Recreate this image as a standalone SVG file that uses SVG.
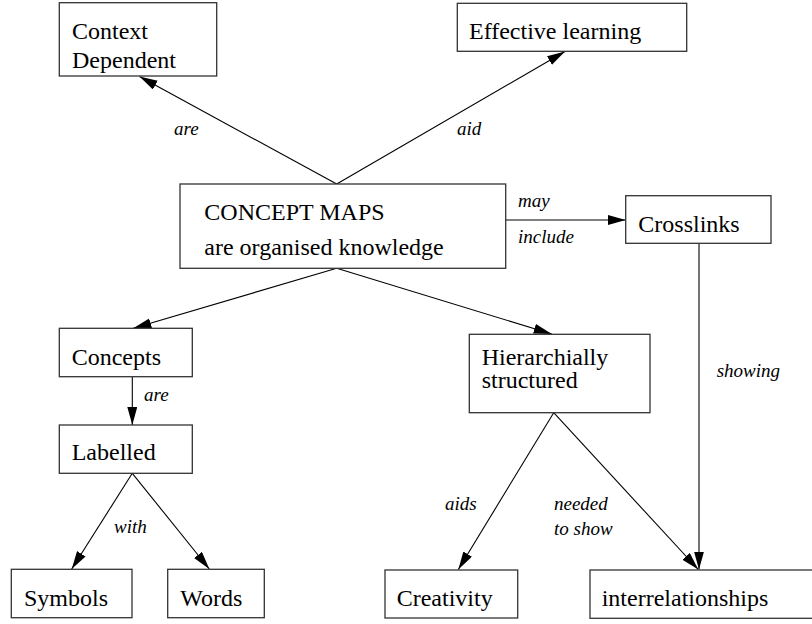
<svg xmlns="http://www.w3.org/2000/svg" width="812" height="624" viewBox="0 0 812 624">
<defs>
<marker id="ah" markerUnits="userSpaceOnUse" markerWidth="20" markerHeight="12" refX="18" refY="5" orient="auto">
<path d="M0,0 L18,5 L0,10 z" fill="#000"/>
</marker>
<style>
rect{fill:#fff;stroke:#333;stroke-width:1.3}
.t{font-size:24px;fill:#000}
.l{font-size:19px;font-style:italic;fill:#000}
#edges line{stroke:#000;stroke-width:1.1;marker-end:url(#ah)}
</style>
</defs>
<rect x="0" y="0" width="812" height="624" style="fill:#fff;stroke:none"/>
<g id="edges">
<line x1="336.7" y1="184" x2="139.5" y2="76.5"/>
<line x1="336.7" y1="184" x2="565" y2="51.5"/>
<line x1="505.7" y1="220" x2="625.7" y2="220"/>
<line x1="336.7" y1="268.3" x2="133.3" y2="328.3"/>
<line x1="336.7" y1="268.3" x2="551.7" y2="334"/>
<line x1="132.3" y1="376.7" x2="132.3" y2="425"/>
<line x1="132.3" y1="473.3" x2="71.7" y2="569"/>
<line x1="132.3" y1="473.3" x2="209.3" y2="569"/>
<line x1="553.7" y1="412.7" x2="458.3" y2="569.5"/>
<line x1="553.7" y1="412.7" x2="698.3" y2="569.5"/>
<line x1="699" y1="243.3" x2="699" y2="569.5"/>
</g>
<g font-family="'Liberation Serif', 'Times New Roman', Times, serif">
<g id="labels">
<text class="l" x="174" y="135">are</text>
<text class="l" x="457" y="135">aid</text>
<text class="l" x="518" y="207">may</text>
<text class="l" x="518" y="243">include</text>
<text class="l" x="144" y="401">are</text>
<text class="l" x="114" y="533">with</text>
<text class="l" x="445" y="510">aids</text>
<text class="l" x="554" y="510">needed</text>
<text class="l" x="554" y="535">to show</text>
<text class="l" x="716.7" y="377">showing</text>
</g>
<g id="context">
<rect x="59.3" y="2.7" width="157.4" height="73.3"/>
<text class="t" x="72" y="39">Context</text>
<text class="t" x="72" y="68">Dependent</text>
</g>
<g id="effective">
<rect x="457.3" y="3.3" width="229.4" height="48"/>
<text class="t" x="469" y="38.5">Effective learning</text>
</g>
<g id="conceptmaps">
<rect x="180" y="184" width="325.7" height="84.3"/>
<text class="t" x="204.3" y="220">CONCEPT MAPS</text>
<text class="t" x="204.3" y="255">are organised knowledge</text>
</g>
<g id="crosslinks">
<rect x="625.7" y="195.7" width="145.3" height="47.6"/>
<text class="t" x="638.3" y="231.7">Crosslinks</text>
</g>
<g id="concepts">
<rect x="59.3" y="328.3" width="133" height="48.4"/>
<text class="t" x="71.7" y="365">Concepts</text>
</g>
<g id="labelled">
<rect x="59.3" y="425" width="133" height="48.3"/>
<text class="t" x="71.7" y="460">Labelled</text>
</g>
<g id="hierarchially">
<rect x="469.3" y="334.3" width="180.7" height="78.4"/>
<text class="t" x="481.7" y="365">Hierarchially</text>
<text class="t" x="481.7" y="388.3">structured</text>
</g>
<g id="symbols">
<rect x="11.3" y="569.3" width="120.7" height="48.4"/>
<text class="t" x="24" y="606">Symbols</text>
</g>
<g id="words">
<rect x="167.7" y="569.3" width="96.6" height="48.4"/>
<text class="t" x="180.3" y="606">Words</text>
</g>
<g id="creativity">
<rect x="385" y="570" width="132.7" height="48"/>
<text class="t" x="396.7" y="606">Creativity</text>
</g>
<g id="interrelationships">
<rect x="590" y="570" width="240" height="48.3"/>
<text class="t" x="601.7" y="606">interrelationships</text>
</g>
</g>
</svg>
